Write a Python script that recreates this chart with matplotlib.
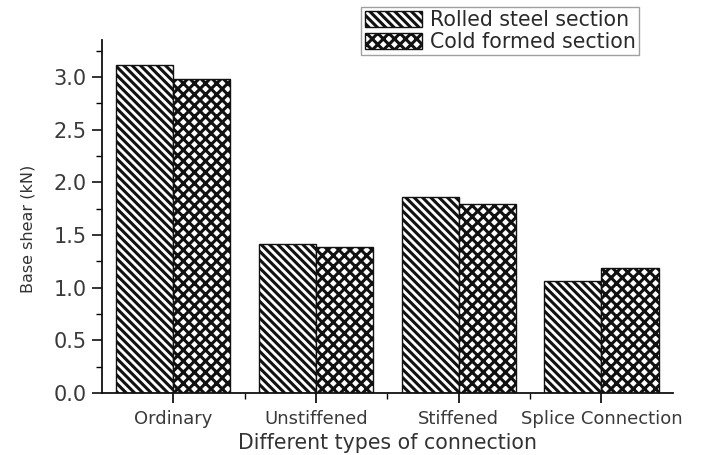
import numpy as np
import matplotlib
matplotlib.use('Agg')
import matplotlib.pyplot as plt
from matplotlib.ticker import MultipleLocator, FixedLocator, FormatStrFormatter

categories = ['Ordinary', 'Unstiffened', 'Stiffened', 'Splice Connection']
rolled = [3.11, 1.415, 1.86, 1.06]
cold = [2.98, 1.39, 1.795, 1.19]

plt.rcParams['font.family'] = ['DejaVu Sans']
plt.rcParams['hatch.linewidth'] = 2.2
plt.rcParams['text.color'] = '#2a2a2a'

fig = plt.figure(figsize=(7.06, 4.55), dpi=100)
ax = fig.add_axes([0.1445, 0.136, 0.8085, 0.776])

x = np.arange(1, len(categories) + 1)
w = 0.4
ax.bar(x - w / 2, rolled, w, facecolor='white', edgecolor='#111111',
       hatch='\\\\\\\\', linewidth=1.0, label='Rolled steel section')
ax.bar(x + w / 2, cold, w, facecolor='white', edgecolor='#111111',
       hatch='xxx', linewidth=1.0, label='Cold formed section')

ax.set_xlim(0.5, 4.5)
ax.set_ylim(0, 3.35)
ax.set_xticks(x)
ax.set_xticklabels(categories, fontsize=13, color='#3a3a3a')
ax.xaxis.set_minor_locator(FixedLocator(x[:-1] + 0.5))
ax.yaxis.set_major_locator(MultipleLocator(0.5))
ax.yaxis.set_minor_locator(MultipleLocator(0.25))
ax.yaxis.set_major_formatter(FormatStrFormatter('%.1f'))
ax.tick_params(axis='y', labelsize=15, colors='#111111', labelcolor='#3a3a3a',
               length=7, width=1.2, direction='out', pad=4)
ax.tick_params(axis='y', which='minor', length=4, width=1.0)
ax.tick_params(axis='x', length=7, width=1.2, direction='out', pad=5)
ax.tick_params(axis='x', which='minor', length=4, width=1.0)

for s in ['top', 'right']:
    ax.spines[s].set_visible(False)
for s in ['left', 'bottom']:
    ax.spines[s].set_linewidth(1.3)
    ax.spines[s].set_color('#111111')

ax.set_xlabel('Different types of connection', fontsize=14.8, color='#333333')
ax.xaxis.set_label_coords(0.5, -0.113)
ax.set_ylabel('Base shear (kN)', fontsize=11.5, color='#333333')
ax.yaxis.set_label_coords(-0.117, 0.465)

leg = fig.legend(loc='upper left', bbox_to_anchor=(0.512, 0.985), fontsize=14.8,
                 frameon=True, fancybox=False, edgecolor='#888888',
                 handlelength=2.8, handleheight=0.8, borderpad=0.15,
                 labelspacing=0.1, handletextpad=0.4, borderaxespad=0)
leg.get_frame().set_linewidth(1.0)

fig.savefig('out.png', dpi=100)
